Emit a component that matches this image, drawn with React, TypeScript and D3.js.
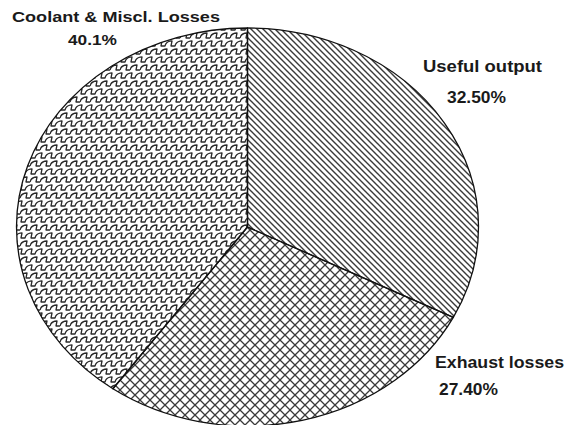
import React from "react";
import * as d3 from "d3";

// Energy balance shares, percent
const categories = ["Useful output", "Exhaust losses", "Coolant & Miscl. Losses"];
const values = [32.5, 27.4, 40.1];
const valueLabels = ["32.50%", "27.40%", "40.1%"];
const patternIds = ["hatch", "crosshatch", "wave"];

const W = 564;
const H = 425;
const cx = 247.5;
const cy = 227;
const rx = 231;
const ry = 199;

// Label layout: left edge, baseline, font size and set width of each line
const labelPos = [
  { x: 423, y: 72, w: 119, vx: 447, vy: 103, vw: 59, fs: 16 },
  { x: 435, y: 368, w: 129, vx: 439, vy: 395, vw: 59, fs: 16 },
  { x: 12, y: 22, w: 208, vx: 68, vy: 45, vw: 49, fs: 15 },
];

function ellipsePoint(a: number): [number, number] {
  return [cx + rx * Math.sin(a), cy - ry * Math.cos(a)];
}

export default function App() {
  const pie = d3
    .pie<number>()
    .sort(null)
    .value((d) => d);
  const arcs = pie(values);

  // Elliptical wedge from the centre between two pie angles
  const slicePath = (a0: number, a1: number) => {
    const [x0, y0] = ellipsePoint(a0);
    const [x1, y1] = ellipsePoint(a1);
    const large = a1 - a0 > Math.PI ? 1 : 0;
    return `M${cx},${cy}L${x0},${y0}A${rx},${ry},0,${large},1,${x1},${y1}Z`;
  };

  const row = "C1,2 4,1 7,1 L6,6 L10,6";

  return (
    <svg
      width={W}
      height={H}
      style={{ position: "absolute", left: 0, top: 0, background: "#fff" }}
    >
      <defs>
        <pattern id="hatch" width="6" height="6" patternUnits="userSpaceOnUse">
          <path d="M-1,-1 L7,7 M-4,2 L2,8 M2,-4 L8,2" stroke="#3a3a3a" strokeWidth="1.4" />
        </pattern>
        <pattern id="crosshatch" width="10" height="10" patternUnits="userSpaceOnUse">
          <path
            d="M0,0 L10,10 M10,0 L0,10"
            stroke="#3a3a3a"
            strokeWidth="1.3"
            fill="none"
          />
        </pattern>
        <pattern id="wave" width="10" height="16" patternUnits="userSpaceOnUse">
          <path
            d={`M0,6 ${row} M-5,14 c1,-4 4,-5 7,-5 l-1,5 l4,0 c1,-4 4,-5 7,-5 l-1,5 l4,0`}
            stroke="#2a2a2a"
            strokeWidth="1.3"
            strokeLinejoin="round"
            fill="none"
          />
        </pattern>
      </defs>
      <rect width={W} height={H} fill="#fff" />
      {arcs.map((a, i) => (
        <path
          key={categories[i]}
          d={slicePath(a.startAngle, a.endAngle)}
          fill={`url(#${patternIds[i]})`}
          stroke="#111"
          strokeWidth={1.3}
          strokeLinejoin="round"
        />
      ))}
      <g
        fontFamily="'Liberation Sans', Arial, sans-serif"
        fontWeight="bold"
        fill="#1a1a1a"
      >
        {categories.map((c, i) => {
          const p = labelPos[i];
          return (
            <g key={c} fontSize={p.fs}>
              <text x={p.x} y={p.y} textLength={p.w} lengthAdjust="spacingAndGlyphs">
                {c}
              </text>
              <text x={p.vx} y={p.vy} textLength={p.vw} lengthAdjust="spacingAndGlyphs">
                {valueLabels[i]}
              </text>
            </g>
          );
        })}
      </g>
    </svg>
  );
}
